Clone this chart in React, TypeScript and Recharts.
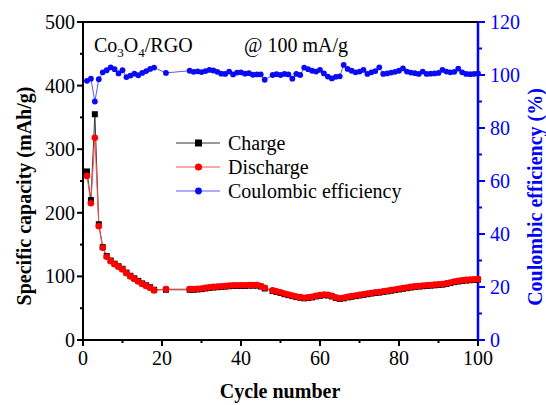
import React from "react";
import { ComposedChart, Line, XAxis, YAxis, ReferenceLine } from "recharts";

// cycles 19-20, 22-26 and 47 were not recorded
const CYCLES = [
  1, 2, 3, 4, 5, 6, 7, 8, 9, 10, 11, 12, 13, 14, 15, 16, 17, 18,
  21,
  27, 28, 29, 30, 31, 32, 33, 34, 35, 36, 37, 38, 39, 40, 41, 42, 43, 44, 45, 46,
  48, 49, 50, 51, 52, 53, 54, 55, 56, 57, 58, 59, 60, 61, 62, 63, 64, 65, 66, 67, 68, 69, 70,
  71, 72, 73, 74, 75, 76, 77, 78, 79, 80, 81, 82, 83, 84, 85, 86, 87, 88, 89, 90,
  91, 92, 93, 94, 95, 96, 97, 98, 99, 100,
];

const CHARGE = [
  265, 220, 355, 182, 146, 132, 125, 120, 116, 112, 106, 101, 97, 93, 89, 86, 83, 79,
  79,
  79, 79, 79.5, 80, 81, 82, 82.5, 83, 83.5, 84, 84.5, 85, 85, 85, 85, 85.5, 85.5, 85.5, 84, 81,
  77, 75.5, 74, 72, 70.5, 69, 67.5, 66.5, 65.5, 66, 67, 68.5, 69.5, 70.5, 70, 68.5, 66, 64.5, 65.5, 67, 68, 69, 70,
  71, 72, 73, 74, 74.5, 75.5, 76.5, 77.5, 78.5, 79.5, 80.5, 81.5, 82.5, 83.5, 84, 84.5, 85, 85.5, 86, 86.5,
  87, 88, 89.5, 91, 92, 93, 93.5, 94, 94.5, 95,
];

const DISCHARGE = [
  258, 215, 318, 179, 145, 131, 124, 119, 115, 111, 105, 100, 96, 92, 88, 85, 82, 78,
  80,
  80, 80, 80.5, 81, 82, 83, 83.5, 84, 84.5, 85, 85.5, 86, 86, 86, 86, 86.5, 86.5, 86.5, 85, 82,
  78, 76.5, 75, 73, 71.5, 70, 68.5, 67.5, 66.5, 67, 68, 69.5, 70.5, 71.5, 71, 69.5, 67, 65.5, 66.5, 68, 69, 70, 71,
  72, 73, 74, 75, 75.5, 76.5, 77.5, 78.5, 79.5, 80.5, 81.5, 82.5, 83.5, 84.5, 85, 85.5, 86, 86.5, 87, 87.5,
  88, 89, 90.5, 92, 93, 94, 94.5, 95, 95.5, 96,
];

const EFFICIENCY = [
  97.8, 98.6, 90, 98.4, 101, 101.8, 102.9, 102.2, 100.6, 101.8, 99.2, 99.8, 100.5, 99.9, 100.8, 101.5, 102.3, 102.8,
  100.8,
  101.6, 101.2, 101.4, 101.1, 101.5, 101.9, 101.7, 101.2, 100.5, 100.4, 101.3, 100.2, 100.9, 101, 100.5, 100.7, 100.1, 100.2, 100.2, 98.2,
  100, 100.3, 100, 100.4, 100.2, 98.6, 100.4, 100, 102.8, 102.2, 101.6, 101.3, 101.9, 100.6, 99.4, 98.7, 99.3, 99.5, 103.8, 102.3, 101.6, 101, 101.3,
  101.9, 100.4, 101, 101.5, 102.9, 100.4, 100.6, 100.9, 101.2, 101.6, 102.5, 101.3, 100.9, 100.7, 100.4, 101.3, 100.4, 100.5, 100.6, 100.8,
  101.9, 101.3, 101, 101.2, 102.4, 101, 100.4, 100.3, 100.4, 100.6,
];

const X_TICKS = [0, 10, 20, 30, 40, 50, 60, 70, 80, 90, 100];
const LEFT_TICKS = [0, 50, 100, 150, 200, 250, 300, 350, 400, 450, 500];
const RIGHT_TICKS = [0, 10, 20, 30, 40, 50, 60, 70, 80, 90, 100, 110, 120];

const data = CYCLES.map((c, i) => ({
  cycle: c,
  charge: CHARGE[i],
  discharge: DISCHARGE[i],
  ce: EFFICIENCY[i],
}));

const SERIF = '"Liberation Serif", "Times New Roman", serif';
const BLUE = "#0000ff";
const FS = 20;

function LeftTick(p: any) {
  const { x, y, payload } = p;
  const major = payload.value % 100 === 0;
  return (
    <g>
      <line x1={x} x2={x - (major ? 6 : 3)} y1={y} y2={y} stroke="#000" strokeWidth={2} />
      {major && (
        <text x={x - 8} y={y} dy="0.35em" textAnchor="end" fontFamily={SERIF} fontSize={FS} fill="#000">
          {payload.value}
        </text>
      )}
    </g>
  );
}

function RightTick(p: any) {
  const { x, y, payload } = p;
  const major = payload.value % 20 === 0;
  return (
    <g>
      <line x1={x} x2={x + (major ? 7 : 4)} y1={y} y2={y} stroke={BLUE} strokeWidth={2} />
      {major && (
        <text x={x + 12} y={y} dy="0.35em" textAnchor="start" fontFamily={SERIF} fontSize={FS} fill={BLUE}>
          {payload.value}
        </text>
      )}
    </g>
  );
}

function BottomTick(p: any) {
  const { x, y, payload } = p;
  const major = payload.value % 20 === 0;
  return (
    <g>
      <line x1={x} x2={x} y1={y} y2={y + (major ? 6 : 3)} stroke="#000" strokeWidth={2} />
      {major && (
        <text x={x} y={y + 25} textAnchor="middle" fontFamily={SERIF} fontSize={FS} fill="#000">
          {payload.value}
        </text>
      )}
    </g>
  );
}

const squareDot = (p: any) => {
  const { cx, cy, index } = p;
  if (cx == null || cy == null) return <g key={index} />;
  return <rect key={index} x={cx - 3} y={cy - 3} width={6} height={6} fill="#000" />;
};

const redDot = (p: any) => {
  const { cx, cy, index } = p;
  if (cx == null || cy == null) return <g key={index} />;
  return <circle key={index} cx={cx} cy={cy} r={3.3} fill="#ff0000" />;
};

const blueDot = (p: any) => {
  const { cx, cy, index } = p;
  if (cx == null || cy == null) return <g key={index} />;
  return <circle key={index} cx={cx} cy={cy} r={2.9} fill="#0a0af5" />;
};

const legendRows = [
  { label: "Charge", line: "#333", kind: "square", y: 143 },
  { label: "Discharge", line: "#ff5050", kind: "red", y: 167 },
  { label: "Coulombic efficiency", line: "#5a5aff", kind: "blue", y: 191 },
];

export default function App() {
  return (
    <div style={{ position: "absolute", left: 0, top: 0, width: 546, height: 405, background: "#fff" }}>
      <ComposedChart
        width={546}
        height={405}
        data={data}
        margin={{ top: 22, right: 23, bottom: 25, left: 38 }}
      >
        <XAxis
          dataKey="cycle"
          type="number"
          domain={[0, 100]}
          ticks={X_TICKS}
          interval={0}
          height={40}
          tickSize={0}
          tickMargin={0}
          tickLine={false}
          axisLine={{ stroke: "#000", strokeWidth: 2 }}
          tick={BottomTick}
        />
        <YAxis
          yAxisId="left"
          orientation="left"
          domain={[0, 500]}
          ticks={LEFT_TICKS}
          interval={0}
          width={45}
          tickSize={0}
          tickMargin={0}
          tickLine={false}
          axisLine={{ stroke: "#000", strokeWidth: 2 }}
          tick={LeftTick}
        />
        <YAxis
          yAxisId="right"
          orientation="right"
          domain={[0, 120]}
          ticks={RIGHT_TICKS}
          interval={0}
          width={45}
          tickSize={0}
          tickMargin={0}
          tickLine={false}
          axisLine={{ stroke: BLUE, strokeWidth: 2.5 }}
          tick={RightTick}
        />
        <ReferenceLine yAxisId="left" y={500} stroke="#000" strokeWidth={2} />
        <Line
          yAxisId="left"
          dataKey="charge"
          type="linear"
          stroke="#333"
          strokeWidth={1}
          dot={squareDot}
          activeDot={false}
          isAnimationActive={false}
        />
        <Line
          yAxisId="left"
          dataKey="discharge"
          type="linear"
          stroke="#ff5050"
          strokeWidth={1}
          dot={redDot}
          activeDot={false}
          isAnimationActive={false}
        />
        <Line
          yAxisId="right"
          dataKey="ce"
          type="linear"
          stroke="#5a5aff"
          strokeWidth={1}
          dot={blueDot}
          activeDot={false}
          isAnimationActive={false}
        />
      </ComposedChart>

      <svg
        width={546}
        height={405}
        style={{ position: "absolute", left: 0, top: 0, pointerEvents: "none" }}
        fontFamily={SERIF}
      >
        <text x={94} y={52} fontSize={FS} fill="#000">
          Co<tspan fontSize={13} dy={5}>3</tspan>
          <tspan dy={-5}>O</tspan>
          <tspan fontSize={13} dy={5}>4</tspan>
          <tspan dy={-5}>/RGO</tspan>
        </text>
        <text x={244} y={52} fontSize={FS} fill="#000">@ 100 mA/g</text>

        {legendRows.map((r) => (
          <g key={r.label}>
            <line x1={176} x2={220} y1={r.y} y2={r.y} stroke={r.line} strokeWidth={1} />
            {r.kind === "square" && <rect x={195} y={r.y - 3.5} width={7} height={7} fill="#000" />}
            {r.kind === "red" && <circle cx={198.5} cy={r.y} r={3.6} fill="#ff0000" />}
            {r.kind === "blue" && <circle cx={198.5} cy={r.y} r={3.4} fill="#0a0af5" />}
            <text x={228} y={r.y} dy="0.35em" fontSize={FS} fill="#000">{r.label}</text>
          </g>
        ))}

        <text
          x={280}
          y={398}
          textAnchor="middle"
          fontSize={FS}
          fontWeight="bold"
          fill="#000"
        >
          Cycle number
        </text>
        <text
          transform="translate(24,196) rotate(-90)"
          textAnchor="middle"
          dy="0.35em"
          fontSize={FS}
          fontWeight="bold"
          fill="#000"
        >
          Specific capacity (mAh/g)
        </text>
        <text
          transform="translate(535,197) rotate(-90)"
          textAnchor="middle"
          dy="0.35em"
          fontSize={FS}
          fontWeight="bold"
          fill={BLUE}
        >
          Coulombic efficiency (%)
        </text>
      </svg>
    </div>
  );
}
